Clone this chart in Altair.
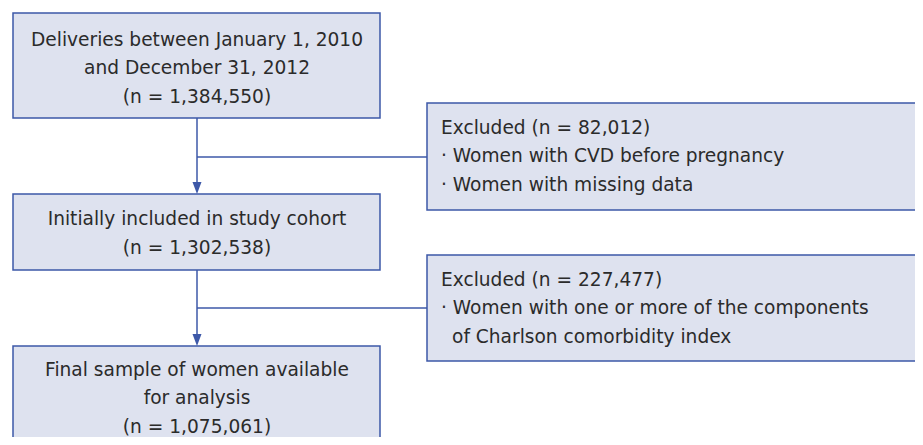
import altair as alt
import pandas as pd

# ---- content ----
stage_text = [
    ["Deliveries between January 1, 2010", "and December 31, 2012"],
    ["Initially included in study cohort"],
    ["Final sample of women available", "for analysis"],
]
stage_n = [1384550, 1302538, 1075061]
excluded_n = [82012, 227477]
excluded_reasons = [
    [["Women with CVD before pregnancy"], ["Women with missing data"]],
    [["Women with one or more of the components", "of Charlson comorbidity index"]],
]

# ---- layout (reference pixel space) ----
X0, X1 = 8, 915
Y0, Y1 = 8, 437
left_box = dict(x=13, x2=380)
left_y = [(13, 118), (194, 270), (346, 470)]
right_box = dict(x=427, x2=940)
right_y = [(103, 210), (255, 361)]
center_x = 197
branch_y = [157, 308]
line_h = 28.6
left_first = [39.5, 219, 369.5]
right_first = [127.5, 279.5]
text_x = 441
indent_x = 452

FILL = "#dee2ef"
EDGE = "#3d58a8"
TXT = "#2b2b2b"
FONT = "DejaVu Sans"
FS = 18.6

boxes = []
for (a, b) in left_y:
    boxes.append(dict(x=left_box["x"], x2=left_box["x2"], y=a, y2=b))
for (a, b) in right_y:
    boxes.append(dict(x=right_box["x"], x2=right_box["x2"], y=a, y2=b))
boxes = pd.DataFrame(boxes)

texts = []
for i, lines in enumerate(stage_text):
    all_lines = lines + [f"(n = {stage_n[i]:,})"]
    for k, t in enumerate(all_lines):
        texts.append(dict(x=center_x, y=left_first[i] + k * line_h, t=t))
rtexts = []
for i, reasons in enumerate(excluded_reasons):
    rtexts.append(dict(x=text_x, y=right_first[i], t=f"Excluded (n = {excluded_n[i]:,})"))
    k = 1
    for r in reasons:
        for j, ln in enumerate(r):
            if j == 0:
                rtexts.append(dict(x=text_x, y=right_first[i] + k * line_h, t="· " + ln))
            else:
                rtexts.append(dict(x=indent_x, y=right_first[i] + k * line_h, t=ln))
            k += 1
texts = pd.DataFrame(texts)
rtexts = pd.DataFrame(rtexts)

segs = []
for i in range(2):
    top = left_y[i][1]
    nxt = left_y[i + 1][0]
    segs.append(dict(x=center_x, x2=center_x, y=top, y2=nxt - 10))
    segs.append(dict(x=center_x, x2=right_box["x"], y=branch_y[i], y2=branch_y[i]))
segs = pd.DataFrame(segs)
heads = pd.DataFrame([dict(x=center_x, y=left_y[i + 1][0] - 6) for i in range(2)])

xs = alt.Scale(domain=[X0, X1], nice=False, zero=False)
ys = alt.Scale(domain=[Y0, Y1], nice=False, zero=False, reverse=True)
X = lambda f: alt.X(f, type="quantitative", scale=xs, axis=None)
Y = lambda f: alt.Y(f, type="quantitative", scale=ys, axis=None)

rects = alt.Chart(boxes).mark_rect(fill=FILL, stroke=EDGE, strokeWidth=1.5).encode(
    x=X("x"), x2="x2", y=Y("y"), y2="y2")
rules = alt.Chart(segs).mark_rule(color=EDGE, strokeWidth=1.5).encode(
    x=X("x"), x2="x2", y=Y("y"), y2="y2")
arrows = alt.Chart(heads).mark_point(
    shape="M-0.75,-1L0.75,-1L0,1Z", size=144, filled=True, fill=EDGE, opacity=1, strokeWidth=0
).encode(x=X("x"), y=Y("y"))
ltext = alt.Chart(texts).mark_text(font=FONT, fontSize=FS, color=TXT, align="center", baseline="middle").encode(
    x=X("x"), y=Y("y"), text="t:N")
rtext = alt.Chart(rtexts).mark_text(font=FONT, fontSize=FS, color=TXT, align="left", baseline="middle").encode(
    x=X("x"), y=Y("y"), text="t:N")

chart = alt.layer(rects, rules, arrows, ltext, rtext).properties(
    width=X1 - X0, height=Y1 - Y0, padding=0, background="white",
    autosize=alt.AutoSizeParams(type="none")
).configure_view(stroke=None, strokeWidth=0)

chart.save("out.html", embed_options={"renderer": "svg", "actions": False})
